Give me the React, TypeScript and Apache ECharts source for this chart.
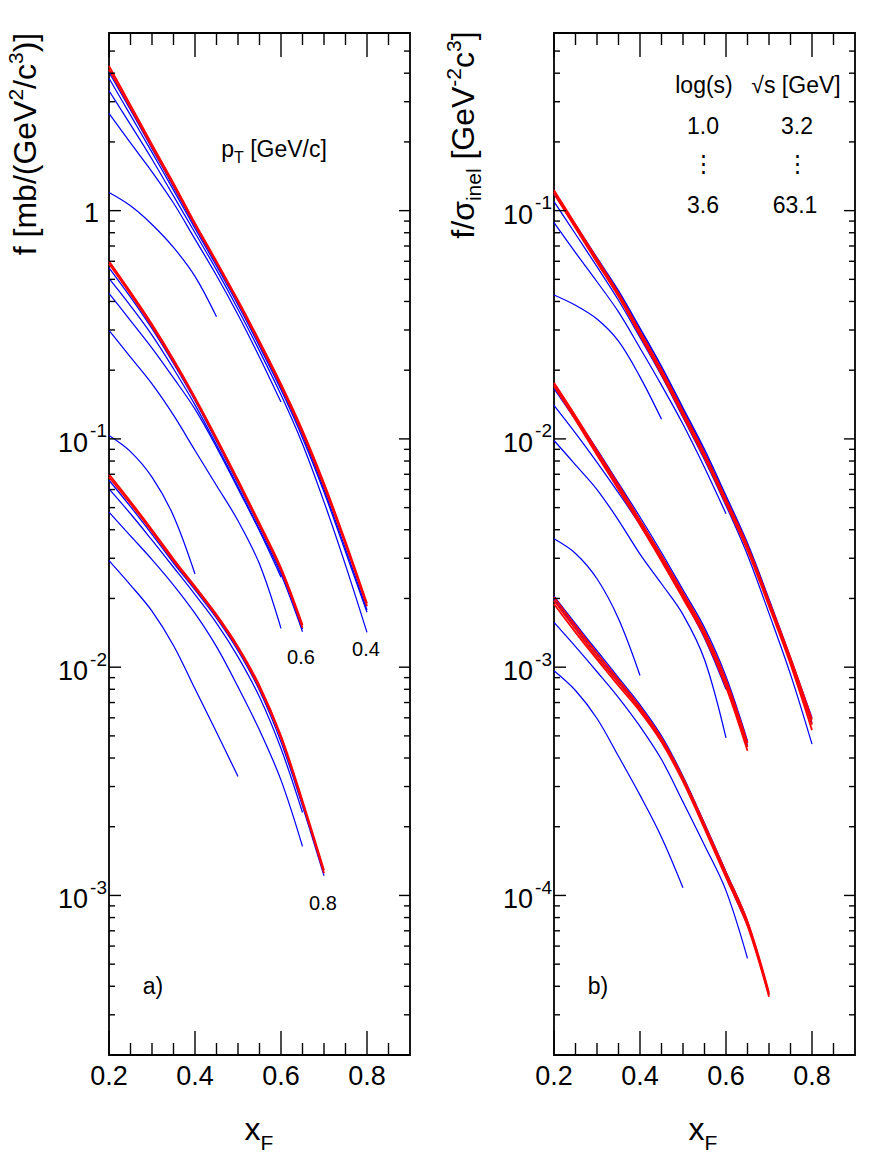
import React, { useEffect, useRef } from 'react';
import * as echarts from 'echarts';

const FONT = "'Liberation Sans', Arial, Helvetica, sans-serif";
const RED = '#ff0000';
const BLUE = '#0000ff';
const INK = '#000000';

// x_F sampling grid shared by all curves
const XF = [0.2, 0.25, 0.3, 0.35, 0.4, 0.45, 0.5, 0.55, 0.6, 0.65, 0.7, 0.75, 0.8];

// ---------- panel a) f [mb/(GeV^2/c^3)] ----------
// pT = 0.4 GeV/c
const a04_r1 = [4.3, 2.9, 1.95, 1.32, 0.88, 0.6, 0.405, 0.268, 0.174, 0.109, 0.064, 0.0355, 0.019];
const a04_r2 = [4.15, 2.82, 1.9, 1.29, 0.865, 0.59, 0.398, 0.262, 0.17, 0.106, 0.062, 0.0345, 0.0185];
const a04_b5 = [4.04, 2.76, 1.87, 1.27, 0.855, 0.585, 0.395, 0.26, 0.168, 0.104, 0.06, 0.033, 0.0178];
const a04_b4 = [3.8, 2.62, 1.8, 1.23, 0.835, 0.572, 0.386, 0.254, 0.164, 0.101, 0.0585, 0.032, 0.0174];
const a04_b3 = [3.35, 2.38, 1.68, 1.16, 0.8, 0.55, 0.37, 0.243, 0.156, 0.095, 0.053, 0.028, 0.0142];
const a04_b2 = [2.67, 1.98, 1.48, 1.08, 0.75, 0.52, 0.35, 0.228, 0.145];
const a04_b1 = [1.2, 1.05, 0.87, 0.69, 0.515, 0.343];
// pT = 0.6 GeV/c
const a06_r1 = [0.6, 0.44, 0.318, 0.223, 0.152, 0.101, 0.0661, 0.0427, 0.0272, 0.0153];
const a06_r2 = [0.585, 0.43, 0.311, 0.218, 0.149, 0.099, 0.0648, 0.0418, 0.0266, 0.0149];
const a06_b5 = [0.562, 0.418, 0.304, 0.214, 0.147, 0.0975, 0.0638, 0.0412, 0.0262, 0.0147];
const a06_b4 = [0.505, 0.383, 0.285, 0.203, 0.141, 0.094, 0.0617, 0.04, 0.0255, 0.0143];
const a06_b3 = [0.434, 0.33, 0.25, 0.185, 0.135, 0.092, 0.0605, 0.0395, 0.0248];
const a06_b2 = [0.299, 0.228, 0.174, 0.127, 0.089, 0.0625, 0.0438, 0.0283, 0.0148];
const a06_b1 = [0.1035, 0.088, 0.068, 0.046, 0.0256];
// pT = 0.8 GeV/c
const a08_r1 = [0.07, 0.0532, 0.04, 0.0298, 0.0226, 0.017, 0.0123, 0.0083, 0.005, 0.0026, 0.00129];
const a08_r2 = [0.068, 0.052, 0.0392, 0.0292, 0.0222, 0.0167, 0.0121, 0.0081, 0.0049, 0.00254, 0.00125];
const a08_b4 = [0.0659, 0.0505, 0.0382, 0.0286, 0.0218, 0.0164, 0.0118, 0.0079, 0.0047, 0.00246, 0.00122];
const a08_b3 = [0.0604, 0.047, 0.036, 0.0274, 0.0208, 0.0156, 0.0111, 0.0074, 0.0044, 0.00231];
const a08_b2 = [0.0478, 0.0376, 0.0296, 0.0229, 0.0172, 0.0123, 0.0082, 0.0053, 0.0032, 0.00164];
const a08_b1 = [0.0293, 0.0229, 0.0176, 0.01245, 0.00804, 0.00519, 0.00332];

// ---------- panel b) f/sigma_inel [GeV^-2 c^3] ----------
// pT = 0.4 GeV/c
const b04_r1 = [0.123, 0.087, 0.0615, 0.0435, 0.0296, 0.0201, 0.0132, 0.00865, 0.00545, 0.0034, 0.00195, 0.0011, 0.00059];
const b04_r2 = [0.121, 0.0855, 0.0605, 0.0428, 0.029, 0.0196, 0.0129, 0.00845, 0.00532, 0.00332, 0.0019, 0.00106, 0.00056];
const b04_r3 = [0.119, 0.084, 0.0593, 0.042, 0.0284, 0.0192, 0.0126, 0.00825, 0.0052, 0.00325, 0.00185, 0.00103, 0.00053];
const b04_b5 = [0.121, 0.0868, 0.0622, 0.0446, 0.0306, 0.0208, 0.0137, 0.009, 0.00565, 0.0035, 0.00199, 0.0011, 0.0006];
const b04_b4 = [0.118, 0.0852, 0.0614, 0.0441, 0.0303, 0.0206, 0.0135, 0.0088, 0.00553, 0.00342, 0.00194, 0.00107, 0.00057];
const b04_b3 = [0.1095, 0.079, 0.0568, 0.0405, 0.0278, 0.0189, 0.0124, 0.0081, 0.0051, 0.0031, 0.00172, 0.00093, 0.00046];
const b04_b2 = [0.0886, 0.0655, 0.0488, 0.036, 0.025, 0.0172, 0.0116, 0.0075, 0.0047];
const b04_b1 = [0.0427, 0.0385, 0.0335, 0.0268, 0.0187, 0.0122];
// pT = 0.6 GeV/c
const b06_r1 = [0.0176, 0.0126, 0.0089, 0.0063, 0.0044, 0.00308, 0.00212, 0.00144, 0.00088, 0.000465];
const b06_r2 = [0.0173, 0.0124, 0.0087, 0.0061, 0.0043, 0.003, 0.00206, 0.0014, 0.00085, 0.000447];
const b06_r3 = [0.017, 0.0121, 0.0085, 0.006, 0.0042, 0.00292, 0.002, 0.00136, 0.00082, 0.00043];
const b06_b5 = [0.0172, 0.0125, 0.009, 0.0064, 0.00455, 0.00318, 0.00218, 0.00149, 0.00091, 0.000475];
const b06_b4 = [0.0166, 0.0121, 0.0087, 0.0062, 0.0044, 0.00308, 0.00211, 0.00144, 0.00087, 0.000455];
const b06_b3 = [0.01403, 0.0106, 0.0079, 0.0058, 0.0042, 0.00295, 0.00202, 0.00134, 0.0008];
const b06_b2 = [0.00984, 0.0077, 0.006, 0.0044, 0.00313, 0.00232, 0.0017, 0.00108, 0.00049];
const b06_b1 = [0.00365, 0.00315, 0.00244, 0.00163, 0.00092];
// pT = 0.8 GeV/c
const b08_r1 = [0.00203, 0.00152, 0.00115, 0.00088, 0.00067, 0.00049, 0.000328, 0.000205, 0.000126, 0.000077, 0.0000375];
const b08_r2 = [0.00196, 0.00147, 0.00111, 0.000855, 0.000655, 0.00048, 0.000321, 0.0002, 0.000123, 0.000075, 0.0000365];
const b08_r3 = [0.00189, 0.00142, 0.00108, 0.00083, 0.00064, 0.00047, 0.000315, 0.000196, 0.00012, 0.0000735, 0.000036];
const b08_b4 = [0.00205, 0.00155, 0.00118, 0.0009, 0.000685, 0.0005, 0.000333, 0.000207, 0.000127, 0.000077, 0.000037];
const b08_b3 = [0.00198, 0.0015, 0.00114, 0.00087, 0.00066, 0.000485, 0.000322, 0.000199, 0.000121, 0.000074];
const b08_b2 = [0.00157, 0.00123, 0.000955, 0.000736, 0.00055, 0.000394, 0.000257, 0.000166, 0.000105, 0.000053];
const b08_b1 = [0.000964, 0.00079, 0.000596, 0.000407, 0.000275, 0.00018, 0.000108];

// ---------- axes ----------
const X_RANGE = [0.2, 0.9];
const A_Y_RANGE = [2e-4, 6];
const B_Y_RANGE = [2e-5, 0.6];
const X_MAJOR_TICKS = [0.2, 0.4, 0.6, 0.8];
const X_TICK_LABELS = ['0.2', '0.4', '0.6', '0.8'];
const X_MINOR_TICKS = [0.25, 0.3, 0.35, 0.45, 0.5, 0.55, 0.65, 0.7, 0.75, 0.85];
const Y_MINOR_MULTS = [2, 3, 4, 5, 6, 7, 8, 9];
const DECADES = [1e-5, 1e-4, 1e-3, 1e-2, 1e-1, 1];
const A_Y_TICKS = [1, 1e-1, 1e-2, 1e-3];
const A_Y_EXPONENTS = ['', '-1', '-2', '-3'];
const B_Y_TICKS = [1e-1, 1e-2, 1e-3, 1e-4];
const B_Y_EXPONENTS = ['-1', '-2', '-3', '-4'];

type Curve = { panel: number; color: string; values: number[] };
const CURVES: Curve[] = [
  { panel: 0, color: BLUE, values: a04_b1 }, { panel: 0, color: BLUE, values: a04_b2 },
  { panel: 0, color: BLUE, values: a04_b3 }, { panel: 0, color: BLUE, values: a04_b4 },
  { panel: 0, color: BLUE, values: a04_b5 }, { panel: 0, color: RED, values: a04_r1 },
  { panel: 0, color: RED, values: a04_r2 },
  { panel: 0, color: BLUE, values: a06_b1 }, { panel: 0, color: BLUE, values: a06_b2 },
  { panel: 0, color: BLUE, values: a06_b3 }, { panel: 0, color: BLUE, values: a06_b4 },
  { panel: 0, color: BLUE, values: a06_b5 }, { panel: 0, color: RED, values: a06_r1 },
  { panel: 0, color: RED, values: a06_r2 },
  { panel: 0, color: BLUE, values: a08_b1 }, { panel: 0, color: BLUE, values: a08_b2 },
  { panel: 0, color: BLUE, values: a08_b3 }, { panel: 0, color: BLUE, values: a08_b4 },
  { panel: 0, color: RED, values: a08_r1 }, { panel: 0, color: RED, values: a08_r2 },

  { panel: 1, color: BLUE, values: b04_b1 }, { panel: 1, color: BLUE, values: b04_b2 },
  { panel: 1, color: BLUE, values: b04_b3 }, { panel: 1, color: BLUE, values: b04_b4 },
  { panel: 1, color: BLUE, values: b04_b5 }, { panel: 1, color: RED, values: b04_r1 },
  { panel: 1, color: RED, values: b04_r2 }, { panel: 1, color: RED, values: b04_r3 },
  { panel: 1, color: BLUE, values: b06_b1 }, { panel: 1, color: BLUE, values: b06_b2 },
  { panel: 1, color: BLUE, values: b06_b3 }, { panel: 1, color: BLUE, values: b06_b4 },
  { panel: 1, color: BLUE, values: b06_b5 }, { panel: 1, color: RED, values: b06_r1 },
  { panel: 1, color: RED, values: b06_r2 }, { panel: 1, color: RED, values: b06_r3 },
  { panel: 1, color: BLUE, values: b08_b1 }, { panel: 1, color: BLUE, values: b08_b2 },
  { panel: 1, color: BLUE, values: b08_b3 }, { panel: 1, color: BLUE, values: b08_b4 },
  { panel: 1, color: RED, values: b08_r1 }, { panel: 1, color: RED, values: b08_r2 },
  { panel: 1, color: RED, values: b08_r3 },
];

function makeAxisRenderer(yTicks: number[], yExps: string[], yRange: number[]) {
  return (params: any, api: any) => {
    const cs = params.coordSys;
    const L = cs.x, T = cs.y, R = cs.x + cs.width, B = cs.y + cs.height;
    const yRef = 0.01;
    const children: any[] = [];
    const seg = (x1: number, y1: number, x2: number, y2: number) =>
      children.push({ type: 'line', shape: { x1, y1, x2, y2 }, style: { stroke: INK, lineWidth: 1.4 } });
    const txt = (text: string, x: number, y: number, size: number, align: string) =>
      children.push({
        type: 'text',
        style: {
          text, x, y, fill: INK, font: `${size}px ${FONT}`, fontSize: size, fontFamily: FONT,
          align, verticalAlign: 'middle', textAlign: align, textVerticalAlign: 'middle',
        },
      });
    X_MINOR_TICKS.forEach((v) => {
      const px = api.coord([v, yRef])[0];
      seg(px, B, px, B - 12);
      seg(px, T, px, T + 12);
    });
    X_MAJOR_TICKS.forEach((v, i) => {
      const px = api.coord([v, yRef])[0];
      seg(px, B, px, B - 24);
      seg(px, T, px, T + 24);
      txt(X_TICK_LABELS[i], px, B + 21, 27, 'center');
    });
    DECADES.forEach((d) => {
      Y_MINOR_MULTS.forEach((m) => {
        const v = d * m;
        if (v < yRange[0] * 0.999 || v > yRange[1] * 1.001) return;
        const py = api.coord([0.5, v])[1];
        seg(L, py, L + 6, py);
        seg(R, py, R - 6, py);
      });
      if (d >= yRange[0] && d <= yRange[1]) {
        const py = api.coord([0.5, d])[1];
        seg(L, py, L + 12, py);
        seg(R, py, R - 11, py);
      }
    });
    yTicks.forEach((v, i) => {
      const py = api.coord([0.5, v])[1];
      if (!yExps[i]) {
        txt('1', L - 10, py + 2, 27, 'right');
      } else {
        txt('10', L - 21, py + 4, 27, 'right');
        txt(yExps[i], L - 2, py - 8, 19, 'right');
      }
    });
    return { type: 'group', children };
  };
}

const rt = (size: number, pad?: number[]) => ({
  fontSize: size, fontFamily: FONT, verticalAlign: 'middle', padding: pad || [0, 0, 0, 0],
});

function plainText(text: string, x: number, y: number, size: number) {
  return {
    type: 'text', x, y, silent: true,
    style: {
      text, fill: INK, font: `${size}px ${FONT}`, fontSize: size, fontFamily: FONT,
      align: 'center', verticalAlign: 'middle', textAlign: 'center', textVerticalAlign: 'middle',
    },
  };
}

function richText(text: string, x: number, y: number, rich: any, rotation = 0) {
  return {
    type: 'text', x, y, rotation, silent: true,
    style: {
      text, fill: INK, fontFamily: FONT, fontSize: 30, rich,
      align: 'center', verticalAlign: 'middle', textAlign: 'center', textVerticalAlign: 'middle',
    },
  };
}

export default function App() {
  const ref = useRef<HTMLDivElement>(null);
  useEffect(() => {
    document.body.style.margin = '0';
    const chart = echarts.init(ref.current!, null, { renderer: 'svg' });
    const grids = [
      { left: 109, top: 33, width: 301, height: 1022 },
      { left: 554, top: 33, width: 301, height: 1022 },
    ].map((g) => ({ ...g, show: true, borderColor: INK, borderWidth: 1.8, backgroundColor: 'transparent' }));

    const hidden = { axisLine: { show: false }, axisTick: { show: false }, axisLabel: { show: false }, splitLine: { show: false } };
    const xAxes = [0, 1].map((i) => ({ type: 'value', gridIndex: i, min: X_RANGE[0], max: X_RANGE[1], ...hidden }));
    const yAxes = [A_Y_RANGE, B_Y_RANGE].map((r, i) => ({
      type: 'log', logBase: 10, gridIndex: i, min: r[0], max: r[1], ...hidden,
    }));

    const lineSeries = CURVES.map((c) => ({
      type: 'line',
      xAxisIndex: c.panel,
      yAxisIndex: c.panel,
      data: c.values.map((v, i) => [XF[i], v]),
      symbol: 'none',
      showSymbol: false,
      smooth: 0.35,
      silent: true,
      lineStyle: { color: c.color, width: c.color === RED ? 1.8 : 1.25 },
      z: c.color === RED ? 3 : 2,
    }));

    const axisSeries = [
      { yT: A_Y_TICKS, yE: A_Y_EXPONENTS, r: A_Y_RANGE },
      { yT: B_Y_TICKS, yE: B_Y_EXPONENTS, r: B_Y_RANGE },
    ].map((a, i) => ({
      type: 'custom',
      xAxisIndex: i,
      yAxisIndex: i,
      data: [[0.5, 0.01]],
      clip: false,
      silent: true,
      z: 10,
      renderItem: makeAxisRenderer(a.yT, a.yE, a.r),
    }));

    const titleRich = { b: rt(32), p: rt(21, [0, 0, 20, 0]), d: rt(21, [20, 0, 0, 0]) };
    const xRich = { b: rt(32), d: rt(21, [26, 0, 0, 0]) };
    const ptRich = { b: rt(23), d: rt(16, [16, 0, 0, 0]) };

    chart.setOption({
      animation: false,
      backgroundColor: '#ffffff',
      grid: grids,
      xAxis: xAxes,
      yAxis: yAxes,
      series: [...lineSeries, ...axisSeries],
      graphic: [
        richText('{b|f [mb/(GeV}{p|2}{b|/c}{p|3}{b|)]}', 25, 144, titleRich, Math.PI / 2),
        richText('{b|f/σ}{d|inel}{b| [GeV}{p|-2}{b|c}{p|3}{b|]}', 463, 135, titleRich, Math.PI / 2),
        richText('{b|x}{d|F}', 259, 1129, xRich),
        richText('{b|x}{d|F}', 703, 1129, xRich),
        richText('{b|p}{d|T}{b| [GeV/c]}', 274, 149, ptRich),
        plainText('0.6', 301, 657, 20),
        plainText('0.4', 366, 649, 20),
        plainText('0.8', 323, 903, 20),
        plainText('a)', 153, 986, 23),
        plainText('b)', 598, 986, 23),
        plainText('log(s)', 704, 85, 23),
        plainText('√s [GeV]', 796, 85, 23),
        plainText('1.0', 703, 126, 23),
        plainText('3.2', 797, 126, 23),
        plainText('⋮', 703, 163, 23),
        plainText('⋮', 797, 163, 23),
        plainText('3.6', 703, 205, 23),
        plainText('63.1', 795, 205, 23),
      ],
    });
    return () => chart.dispose();
  }, []);
  return <div ref={ref} style={{ width: 872, height: 1160 }} />;
}
